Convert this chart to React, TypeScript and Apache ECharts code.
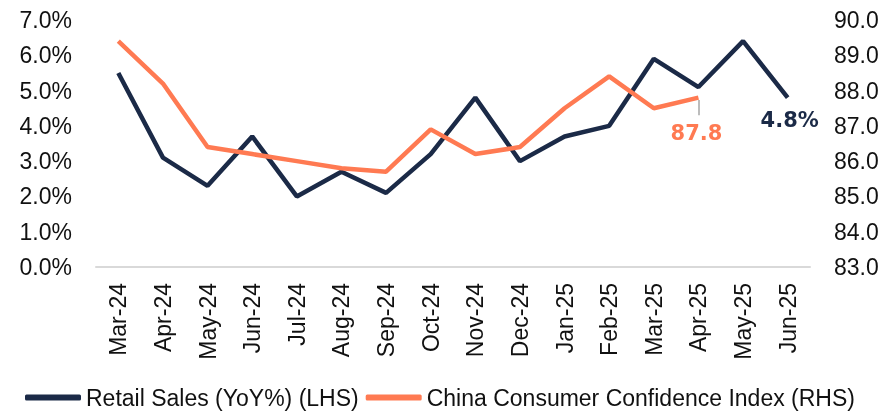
import React, { useEffect, useRef } from "react";
import * as echarts from "echarts";

const categories = ["Mar-24","Apr-24","May-24","Jun-24","Jul-24","Aug-24","Sep-24","Oct-24","Nov-24","Dec-24","Jan-25","Feb-25","Mar-25","Apr-25","May-25","Jun-25"];
const retailSales = [5.5, 3.1, 2.3, 3.7, 2.0, 2.7, 2.1, 3.2, 4.8, 3.0, 3.7, 4.0, 5.9, 5.1, 6.4, 4.8];
const confidence: (number | null)[] = [89.4, 88.2, 86.4, 86.2, 86.0, 85.8, 85.7, 86.9, 86.2, 86.4, 87.5, 88.4, 87.5, 87.8, null, null];

const NAVY = "#1b2a47";
const CORAL = "#ff7a52";
const FONT = "DejaVu Sans";
const SANS = "Liberation Sans";

export default function App() {
  const ref = useRef<HTMLDivElement>(null);
  useEffect(() => {
    const chart = echarts.init(ref.current!, undefined, { renderer: "svg" });
    const lastR = retailSales.length - 1;
    const lastC = confidence.reduce((acc: number, v, i) => (v != null ? i : acc), 0);
    chart.setOption({
      animation: false,
      grid: { left: 96, right: 78, top: 20, bottom: 148 },
      legend: {
        top: 381,
        left: 20,
        itemWidth: 56,
        itemHeight: 6,
        itemGap: 7,
        icon: "roundRect",
        textStyle: { fontFamily: SANS, fontSize: 23, color: "#111" },
        data: ["Retail Sales (YoY%) (LHS)", "China Consumer Confidence Index (RHS)"],
      },
      xAxis: {
        type: "category",
        data: categories,
        boundaryGap: true,
        axisLine: { lineStyle: { color: "#d9d9d9", width: 2 } },
        axisTick: { show: false },
        axisLabel: { rotate: 90, margin: 16, fontFamily: SANS, fontSize: 23, color: "#111", interval: 0 },
      },
      yAxis: [
        {
          type: "value", min: 0, max: 7, interval: 1,
          splitLine: { show: false }, axisLine: { show: false }, axisTick: { show: false },
          axisLabel: { formatter: (v: number) => v.toFixed(1) + "%", fontFamily: SANS, fontSize: 23, color: "#111", margin: 24 },
        },
        {
          type: "value", min: 83, max: 90, interval: 1,
          splitLine: { show: false }, axisLine: { show: false }, axisTick: { show: false },
          axisLabel: { formatter: (v: number) => v.toFixed(1), fontFamily: SANS, fontSize: 23, color: "#111", margin: 24 },
        },
      ],
      series: [
        {
          name: "Retail Sales (YoY%) (LHS)",
          type: "line",
          yAxisIndex: 0,
          showSymbol: true,
          symbol: "circle",
          symbolSize: 0,
          color: NAVY,
          lineStyle: { color: NAVY, width: 4.5 },
          data: retailSales.map((v, i) =>
            i === lastR
              ? { value: v, label: { show: true, position: "bottom", distance: 12, offset: [2, 0], formatter: (p: any) => p.value.toFixed(1) + "%", fontFamily: FONT, fontWeight: "bold", fontSize: 21, color: NAVY } }
              : v
          ),
        },
        {
          name: "China Consumer Confidence Index (RHS)",
          type: "line",
          yAxisIndex: 1,
          showSymbol: true,
          symbol: "circle",
          symbolSize: 0,
          color: CORAL,
          lineStyle: { color: CORAL, width: 4.5 },
          data: confidence.map((v, i) =>
            i === lastC
              ? { value: v, label: { show: true, position: "bottom", distance: 24, offset: [-2, 1], formatter: (p: any) => p.value.toFixed(1), fontFamily: FONT, fontWeight: "bold", fontSize: 21, color: CORAL } }
              : v
          ),
          markLine: {
            silent: true,
            symbol: "none",
            label: { show: false },
            lineStyle: { color: "#a6a6a6", width: 1.5, type: "solid" },
            data: [[{ coord: [lastC, (confidence[lastC] as number) - 0.07] }, { coord: [lastC - 0.05, (confidence[lastC] as number) - 0.5] }]],
          },
        },
      ],
    });
    return () => chart.dispose();
  }, []);
  return <div ref={ref} style={{ position: "fixed", left: 0, top: 0, width: 888, height: 415 }} />;
}
